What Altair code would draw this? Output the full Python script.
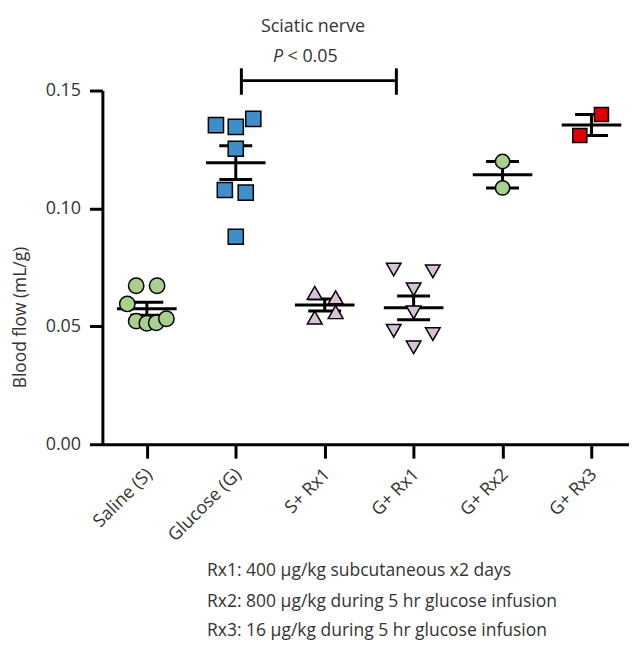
import json
import altair as alt
import pandas as pd

# ---- data ----
groups = ["Saline (S)", "Glucose (G)", "S+ Rx1", "G+ Rx1", "G+ Rx2", "G+ Rx3"]

saline = [0.0672, 0.0672, 0.0595, 0.0522, 0.0513, 0.0515, 0.0532]
saline_spread = [-0.12, 0.115, -0.22, -0.12, 0.0, 0.105, 0.22]
glucose = [0.1353, 0.1346, 0.1380, 0.1253, 0.1078, 0.1067, 0.0880]
glucose_spread = [-0.223, 0.0, 0.197, 0.0, -0.123, 0.112, 0.0]
s_rx1 = [0.0642, 0.0623, 0.0537, 0.0560]
s_rx1_spread = [-0.112, 0.123, -0.112, 0.123]
g_rx1 = [0.0741, 0.0733, 0.0657, 0.0559, 0.0481, 0.0467, 0.0411]
g_rx1_spread = [-0.224, 0.216, 0.0, 0.0, -0.224, 0.216, 0.0]
g_rx2 = [0.1199, 0.1087]
g_rx2_spread = [0.0, 0.0]
g_rx3 = [0.1398, 0.1309]
g_rx3_spread = [0.112, -0.131]

series = [saline, glucose, s_rx1, g_rx1, g_rx2, g_rx3]
spreads = [saline_spread, glucose_spread, s_rx1_spread, g_rx1_spread, g_rx2_spread, g_rx3_spread]

shapes = ["circle", "square", "triangle-up", "triangle-down", "circle", "square"]
fills = ["#a9d08e", "#3d8fc9", "#d8c2d8", "#d8c2d8", "#a9d08e", "#e00000"]
sizes = [240, 200, 190, 190, 120, 230]

y_ticks = [0.0, 0.05, 0.10, 0.15]

title_text = "Sciatic nerve"
p_italic = "P"
p_rest = "< 0.05"
bracket_x = [1.063, 2.806]
bracket_y = 0.1542
bracket_tick = [0.1482, 0.1594]

footnotes = [
    "Rx1: 400 \u00b5g/kg subcutaneous x2 days",
    "Rx2: 800 \u00b5g/kg during 5 hr glucose infusion",
    "Rx3: 16 \u00b5g/kg during 5 hr glucose infusion",
]
footnote_y = [-0.0538, -0.0668, -0.0790]
footnote_x = 0.677

# ---- tables ----
rows = []
for i, (vals, spr) in enumerate(zip(series, spreads)):
    for v, s in zip(vals, spr):
        rows.append({"group": groups[i], "idx": i, "value": v, "spread": s})
df = pd.DataFrame(rows)

FONT = "Open Sans"
TXT = "#333333"
FS = 18

xscale = alt.Scale(domain=[-0.5, 5.422], nice=False, zero=False)
yscale = alt.Scale(domain=[0, 0.15], nice=False, zero=True)

label_expr = json.dumps(groups) + "[datum.value]"
xaxis = alt.Axis(
    values=list(range(len(groups))), labelExpr=label_expr, title=None, grid=False,
    tickSize=14, labelAngle=-45, labelAlign="right", labelBaseline="top",
    labelPadding=7, labelOffset=-4,
)
yaxis = alt.Axis(
    values=y_ticks, format=".2f", title="Blood flow (mL/g)", grid=False,
    tickSize=13, labelPadding=9, titleX=-82, titleY=228, titleBaseline="middle",
    titleFontWeight="normal", titleFontSize=17.5,
)


def X(field):
    return alt.X(field, scale=xscale, axis=xaxis)


def Y(field):
    return alt.Y(field, scale=yscale, axis=yaxis)


base = alt.Chart(df)

stats = base.transform_aggregate(
    m="mean(value)", se="stderr(value)", groupby=["idx"]
).transform_calculate(
    hi="datum.m + datum.se", lo="datum.m - datum.se",
    ml="datum.idx - 0.335", mr="datum.idx + 0.335",
    cl="datum.idx - 0.185", cr="datum.idx + 0.185",
)

mean_rule = stats.mark_rule(color="black", strokeWidth=3).encode(
    x=X("ml:Q"), x2="mr:Q", y=Y("m:Q"))
cap_hi = stats.mark_rule(color="black", strokeWidth=3).encode(
    x=X("cl:Q"), x2="cr:Q", y=Y("hi:Q"))
cap_lo = stats.mark_rule(color="black", strokeWidth=3).encode(
    x=X("cl:Q"), x2="cr:Q", y=Y("lo:Q"))
vbar = stats.mark_rule(color="black", strokeWidth=3).encode(
    x=X("idx:Q"), y=Y("lo:Q"), y2="hi:Q")

points = base.transform_calculate(xpos="datum.idx + datum.spread").mark_point(
    filled=True, stroke="black", strokeWidth=1.5, opacity=1
).encode(
    x=X("xpos:Q"),
    y=Y("value:Q"),
    shape=alt.Shape("group:N", scale=alt.Scale(domain=groups, range=shapes), legend=None),
    fill=alt.Fill("group:N", scale=alt.Scale(domain=groups, range=fills), legend=None),
    size=alt.Size("group:O", scale=alt.Scale(domain=groups, range=sizes), legend=None),
)

br_df = pd.DataFrame({"x": [bracket_x[0]], "x2": [bracket_x[1]], "y": [bracket_y]})
br_h = alt.Chart(br_df).mark_rule(color="black", strokeWidth=3).encode(
    x=X("x:Q"), x2="x2:Q", y=Y("y:Q"))
brt_df = pd.DataFrame({"x": bracket_x, "y": [bracket_tick[0]] * 2, "y2": [bracket_tick[1]] * 2})
br_v = alt.Chart(brt_df).mark_rule(color="black", strokeWidth=3).encode(
    x=X("x:Q"), y=Y("y:Q"), y2="y2:Q")

t_df = pd.DataFrame({"x": [1.869], "y": [0.1748], "t": [title_text]})
title_mark = alt.Chart(t_df).mark_text(
    font=FONT, fontSize=FS, color=TXT, align="center", baseline="alphabetic"
).encode(x=X("x:Q"), y=Y("y:Q"), text="t:N")

p1_df = pd.DataFrame({"x": [1.532], "y": [0.1622], "t": [p_italic]})
p1 = alt.Chart(p1_df).mark_text(
    font=FONT, fontSize=FS, color=TXT, align="right", baseline="alphabetic", fontStyle="italic"
).encode(x=X("x:Q"), y=Y("y:Q"), text="t:N")
p2_df = pd.DataFrame({"x": [1.582], "y": [0.1622], "t": [p_rest]})
p2 = alt.Chart(p2_df).mark_text(
    font=FONT, fontSize=FS, color=TXT, align="left", baseline="alphabetic"
).encode(x=X("x:Q"), y=Y("y:Q"), text="t:N")

fn_df = pd.DataFrame({"x": [footnote_x] * len(footnotes), "y": footnote_y, "t": footnotes})
fn = alt.Chart(fn_df).mark_text(
    font=FONT, fontSize=17.6, color=TXT, align="left", baseline="middle"
).encode(x=X("x:Q"), y=Y("y:Q"), text="t:N")

chart = alt.layer(
    mean_rule, cap_hi, cap_lo, vbar, points, br_h, br_v, title_mark, p1, p2, fn
).properties(
    width=530, height=356,
    autosize=alt.AutoSizeParams(type="none"),
    padding={"left": 95, "top": 81, "right": 0, "bottom": 200},
).configure_view(stroke=None).configure_axis(
    labelFont=FONT, labelFontSize=FS, labelColor=TXT,
    titleFont=FONT, titleFontSize=FS, titleColor=TXT,
    domainColor="black", domainWidth=3, tickColor="black", tickWidth=3,
)

chart.save("out.html", embed_options={"renderer": "svg", "actions": False})
